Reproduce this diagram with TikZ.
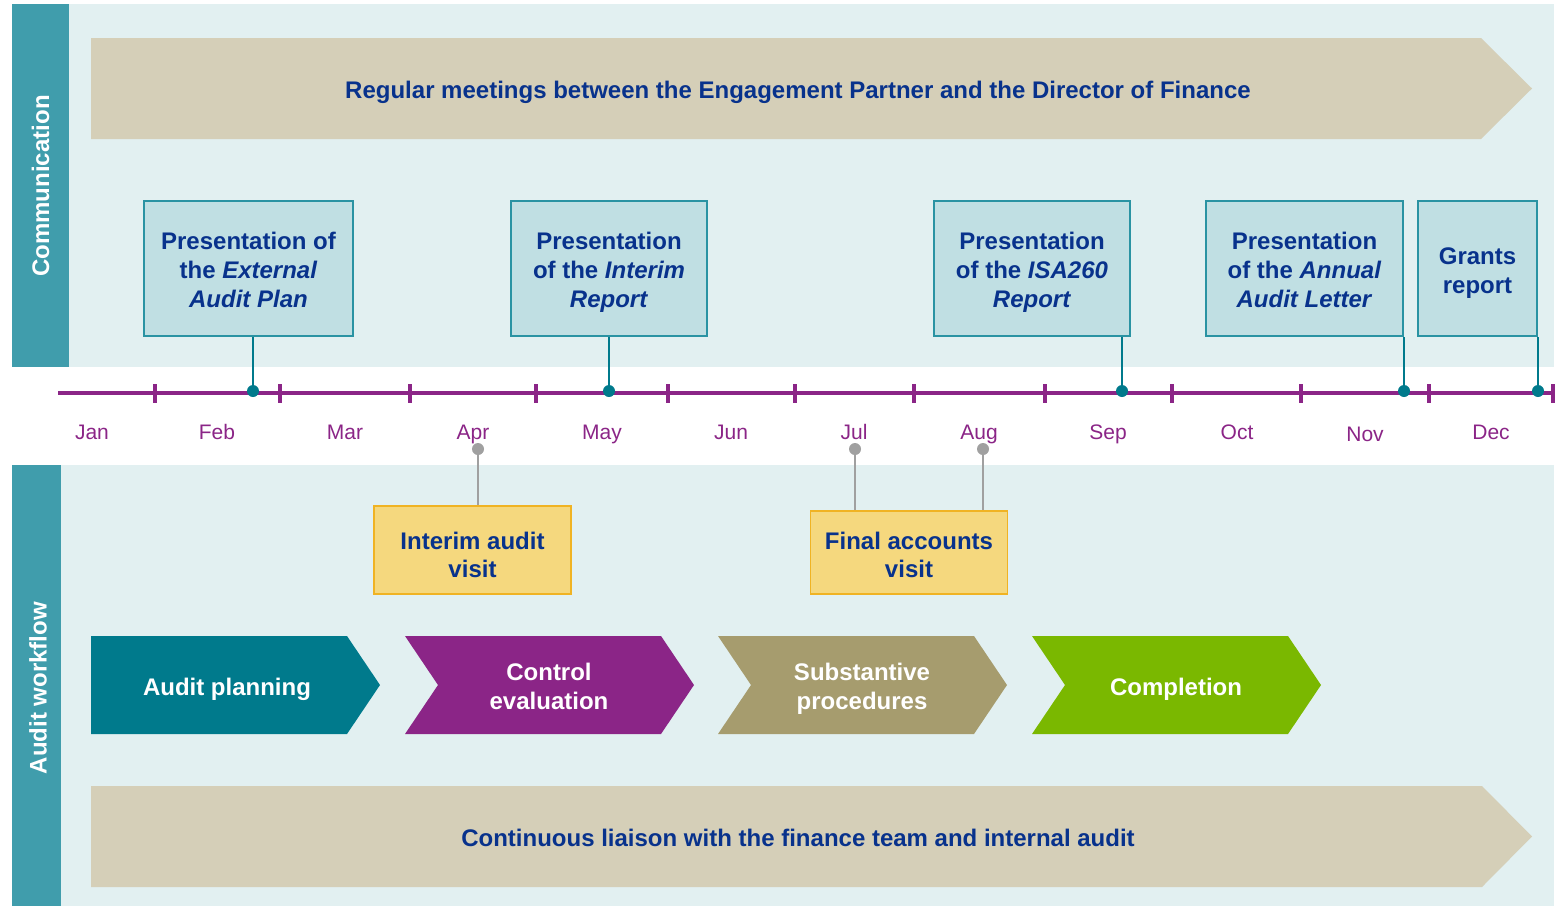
\documentclass[tikz,border=0pt]{standalone}
\usepackage{fontspec}
\setmainfont{Liberation Sans}
\usepackage{tikz}
\usetikzlibrary{positioning}

\definecolor{bgC}{RGB}{226,240,241}
\definecolor{sideC}{RGB}{64,157,172}
\definecolor{bandC}{RGB}{213,207,184}
\definecolor{navyC}{RGB}{8,50,140}
\definecolor{monthC}{RGB}{139,37,135}
\definecolor{boxC}{RGB}{192,223,227}
\definecolor{edgeC}{RGB}{42,147,163}
\definecolor{lineC}{RGB}{0,122,140}
\definecolor{visitC}{RGB}{245,216,126}
\definecolor{visitedgeC}{RGB}{240,179,35}
\definecolor{pinC}{RGB}{160,160,160}
\definecolor{planC}{RGB}{0,122,140}
\definecolor{ctrlC}{RGB}{139,37,135}
\definecolor{subsC}{RGB}{166,156,110}
\definecolor{compC}{RGB}{122,184,0}

% strut for the first line of a label
\newcommand{\tops}[1][13pt]{\rule{0pt}{#1}}

\tikzset{
 lo/.style
  = {execute at end node={\rule[-3pt]{0pt}{3pt}}},
 side/.style
  = {rotate=90, text=white, font=\fontsize{12}{14.5}\selectfont\bfseries},
 band/.style
  = {lo, text=navyC, font=\fontsize{12}{14.5}\selectfont\bfseries},
 pres/.style
  = {rectangle, draw=edgeC, fill=boxC, line width=0.7pt, minimum height=67.5pt, lo,
     align=center, text=navyC, font=\fontsize{12}{14.5}\selectfont\bfseries},
 visit/.style
  = {rectangle, draw=visitedgeC, fill=visitC, line width=0.7pt, minimum width=98.5pt, lo,
     align=center, text=navyC, font=\fontsize{12}{14}\selectfont\bfseries},
 stage/.style
  = {lo, align=center, text=white, font=\fontsize{12}{14.5}\selectfont\bfseries},
 month/.style
  = {anchor=base, text=monthC, font=\fontsize{10.5}{12}\selectfont},
 dot/.style
  = {circle, fill=lineC, inner sep=0pt, minimum size=6pt},
 pin/.style
  = {circle, fill=pinC, inner sep=0pt, minimum size=6pt},
 l/.style
  = {draw=lineC, line width=1.2pt},
 ll/.style
  = {draw=pinC, line width=1.2pt},
 axis/.style
  = {draw=monthC, line width=1.6pt},
}

\begin{document}
\begin{tikzpicture}[x=0.5pt,y=-0.5pt]

% Page
\fill[white] (0,0) rectangle (1559,906);
\useasboundingbox (0,0) rectangle (1559,906);

% Communication panel
\fill[bgC] (69,4) rectangle (1554,367);
\fill[sideC] (12,4) rectangle (69,367);
\node[side] (comm) at (40.5,186) {Communication};

% Audit workflow panel
\fill[bgC] (61,465) rectangle (1554,906);
\fill[sideC] (12,465) rectangle (61,906);
\node[side] (flow) at (38,688) {Audit workflow};

% Meetings band
\fill[bandC] (91,38) -- (1481,38) -- (1532,88.5) -- (1481,139) -- (91,139) -- cycle;
\node[band] (meet) at (798,88.5) {\tops Regular meetings between the Engagement Partner and the Director of Finance};

% Liaison band
\fill[bandC] (91,786) -- (1482,786) -- (1532,836.5) -- (1482,887) -- (91,887) -- cycle;
\node[band] (liaise) at (798,836.5) {\tops Continuous liaison with the finance team and internal audit};

% Time line
\coordinate (axL) at (58,393);
\coordinate (axR) at (1553,393);
\draw[axis] (axL) -- (axR);
\foreach \x in {155,280,410,536,668,795,914,1045,1172,1301,1429,1553}
  \draw[axis] (\x,384) -- (\x,403);

% Months
\foreach \x/\m/\y in {92/Jan/439,217/Feb/439,345/Mar/439,473/Apr/439,602/May/439,731/Jun/439,
                      854/Jul/439,979/Aug/439,1108/Sep/439,1237/Oct/439,1365/Nov/441,1491/Dec/439}
  \node[month] (\m) at (\x,\y) {\m};

% Presentations
\node[pres, minimum width=104.5pt] (p1) at (248.5,268.5) {\tops Presentation of\\the \textit{External}\\\textit{Audit Plan}};
\node[pres, minimum width=98pt] (p2) at (609,268.5) {\tops Presentation\\of the \textit{Interim}\\\textit{Report}};
\node[pres, minimum width=98pt] (p3) at (1032,268.5) {\tops Presentation\\of the \textit{ISA260}\\\textit{Report}};
\node[pres, minimum width=98.5pt] (p4) at (1304.5,268.5) {\tops Presentation\\of the \textit{Annual}\\\textit{Audit Letter}};
\node[pres, minimum width=59.5pt] (p5) at (1477.5,268.5) {\tops Grants\\report};

% Presentation dates
\node[dot] (d1) at (253,391) {};
\node[dot] (d2) at (609,391) {};
\node[dot] (d3) at (1122,391) {};
\node[dot] (d4) at (1404,391) {};
\node[dot] (d5) at (1538,391) {};
\foreach \i in {1,...,5}
  \draw[l] (d\i.center) -- (d\i |- p\i.south);

% Visits
\node[visit, minimum height=44pt] (v1) at (472.5,550) {\tops[16.6pt]Interim audit\\visit};
\node[visit, minimum height=41.5pt] (v2) at (909,552.5) {\tops[14.1pt]Final accounts\\visit};
\node[pin] (g1) at (478,449) {};
\node[pin] (g2) at (855,449) {};
\node[pin] (g3) at (983,449) {};
\draw[ll] (g1.center) -- (g1 |- v1.north);
\draw[ll] (g2.center) -- (g2 |- v2.north);
\draw[ll] (g3.center) -- (g3 |- v2.north);

% Stages
\foreach \xa/\nt/\xt/\col/\nm/\txt in {91/0/227/planC/plan/{Audit planning},
    405/33/549/ctrlC/ctrl/{Control\\evaluation},
    718/33/862/subsC/subs/{Substantive\\procedures},
    1032/33/1176/compC/comp/{Completion}}
{
  \fill[\col] (\xa,636) -- (\xa+256,636) -- (\xa+289,685) -- (\xa+256,734) -- (\xa,734) -- (\xa+\nt,685) -- cycle;
  \node[stage] (\nm) at (\xt,685) {\tops\txt};
}

\end{tikzpicture}
\end{document}
